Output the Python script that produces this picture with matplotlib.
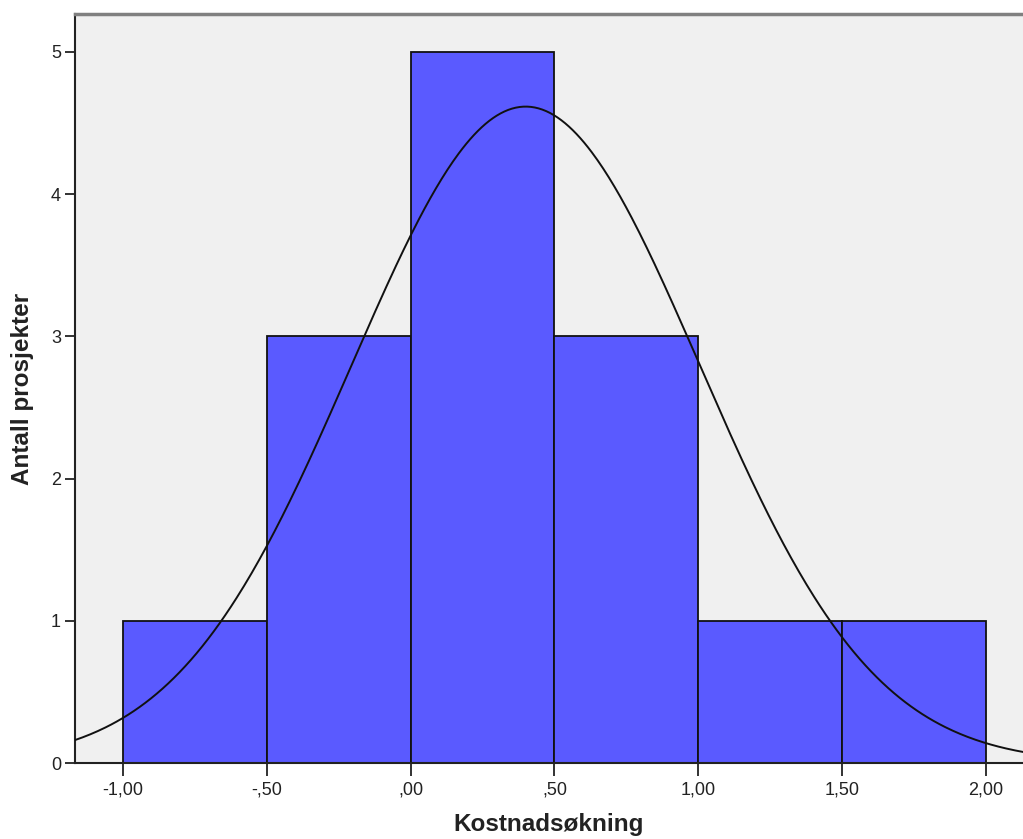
import numpy as np
import matplotlib
matplotlib.use("Agg")
import matplotlib.pyplot as plt
from matplotlib.ticker import FixedLocator, FixedFormatter

# Data
bin_edges = [-1.0, -0.5, 0.0, 0.5, 1.0, 1.5, 2.0]
counts = [1, 3, 5, 3, 1, 1]
x_ticks = [-1.0, -0.5, 0.0, 0.5, 1.0, 1.5, 2.0]
x_tick_labels = ["-1,00", "-,50", ",00", ",50", "1,00", "1,50", "2,00"]
y_ticks = [0, 1, 2, 3, 4, 5]
mean_val = 0.40
std_val = 0.605
n_total = 14

plt.rcParams['font.family'] = ['Liberation Sans', 'DejaVu Sans']

fig = plt.figure(figsize=(10.23, 8.39), dpi=100)
W, H = 1023, 839
ax = fig.add_axes([75 / W, (H - 763) / H, (W - 75) / W, (763 - 14) / H])
ax.set_facecolor('#F0F0F0')

widths = np.diff(bin_edges)
ax.bar(bin_edges[:-1], counts, width=widths, align='edge',
       color='#5A5AFF', edgecolor='#111111', linewidth=1.3, zorder=2)

xlim = (-1.167, 2.129)
xs = np.linspace(xlim[0], xlim[1], 500)
bw = widths[0]
ys = n_total * bw / (std_val * np.sqrt(2 * np.pi)) * np.exp(-0.5 * ((xs - mean_val) / std_val) ** 2)
ax.plot(xs, ys, color='#111111', linewidth=1.4, zorder=3)

ax.set_xlim(*xlim)
ax.set_ylim(0, 5.267)

ax.xaxis.set_major_locator(FixedLocator(x_ticks))
ax.xaxis.set_major_formatter(FixedFormatter(x_tick_labels))
ax.set_yticks(y_ticks)
ax.set_yticklabels([str(v) for v in y_ticks])

ax.tick_params(axis='x', direction='out', length=9, width=1.3, color='#222222',
               labelsize=13, pad=4, labelcolor='#222222')
ax.tick_params(axis='y', direction='out', length=7, width=1.3, color='#222222',
               labelsize=13, pad=3, labelcolor='#222222')

ax.spines['right'].set_visible(False)
ax.spines['top'].set_color('#808080')
ax.spines['top'].set_linewidth(2.5)
ax.spines['left'].set_color('#222222')
ax.spines['left'].set_linewidth(1.5)
ax.spines['bottom'].set_color('#222222')
ax.spines['bottom'].set_linewidth(1.5)

ax.set_xlabel('Kostnadsøkning', fontsize=17.5, fontweight='bold', labelpad=11, color='#222222')
ax.set_ylabel('Antall prosjekter', fontsize=17.5, fontweight='bold', labelpad=12, color='#222222')

fig.savefig('out.png', dpi=100)
